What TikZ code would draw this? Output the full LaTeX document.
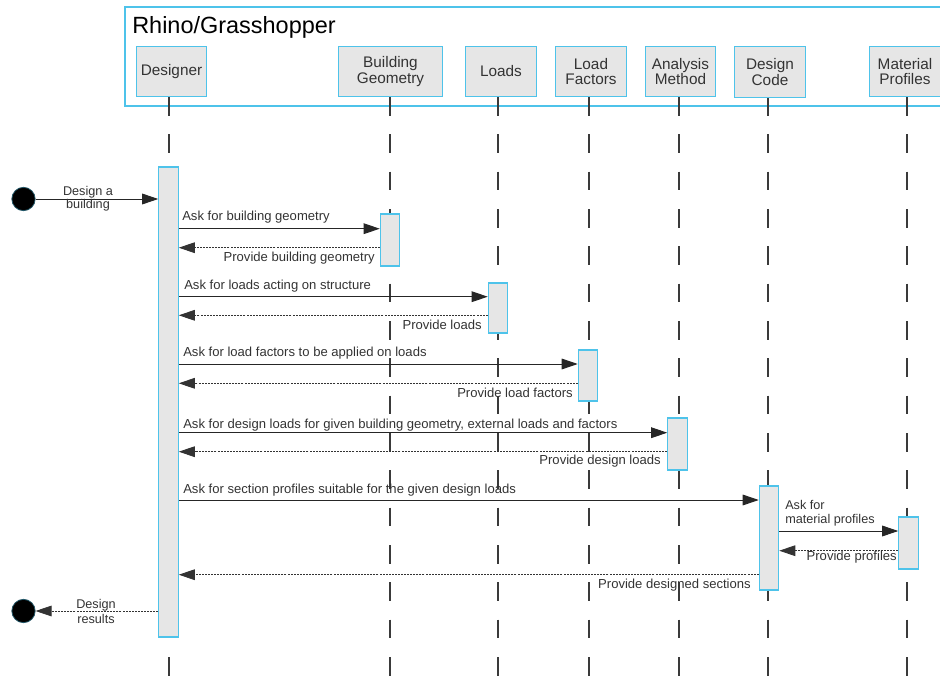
\documentclass[tikz,border=0pt]{standalone}
\usepackage{fontspec}
\setmainfont{Liberation Sans}
\usepackage{tikz}
\usetikzlibrary{arrows.meta,calc}

\definecolor{frameblue}{HTML}{4EC3EA}
\definecolor{boxgray}{HTML}{E6E6E6}
\definecolor{textgray}{HTML}{333333}
\definecolor{linegray}{HTML}{3A3A3A}

\tikzset{
  headbox/.style={draw=frameblue, fill=boxgray, line width=0.9pt, minimum width=53pt, minimum height=38pt,
    inner sep=1pt, align=center, text=textgray, font=\fontsize{11.5}{11.5}\selectfont},
  actbar/.style={draw=frameblue, fill=boxgray, line width=0.9pt, minimum width=14.5pt, inner sep=0pt},
  lifeline/.style={linegray, line width=0.8pt, dash pattern=on 14pt off 14pt},
  callmsg/.style={black!85, line width=0.7pt, -{Triangle[length=12pt,width=8pt]}},
  backmsg/.style={black!80, line width=0.6pt, dash pattern=on 1.5pt off 0.8pt, -{Triangle[length=12pt,width=8pt]}},
  msgtext/.style={inner sep=0pt, text=textgray, font=\fontsize{9.8}{9.8}\selectfont},
  endpoint/.style={circle, fill=black, draw=frameblue!45!black, line width=0.6pt, minimum size=17.5pt, inner sep=0pt}
}

\begin{document}
\begin{tikzpicture}[x=0.75pt,y=-0.75pt]
\useasboundingbox (0,0) rectangle (940,678);

% frame
\draw [frameblue, line width=0.9pt] (946,7) -- (125,7) -- (125,106) -- (946,106);
\node [anchor=west, inner sep=0pt, text=black, font=\fontsize{17.6}{17.6}\selectfont] (title) at (132,27) {Rhino/Grasshopper};

% lifelines
\draw [lifeline] (169,97) -- (169,678);
\draw [lifeline] (390,97) -- (390,678);
\draw [lifeline] (498,97) -- (498,678);
\draw [lifeline] (589,97) -- (589,678);
\draw [lifeline] (679,97) -- (679,678);
\draw [lifeline] (768,97) -- (768,678);
\draw [lifeline] (907,97) -- (907,678);

\node [headbox] (designer) at (171.5,71.5) {Designer};
\node [headbox, minimum width=78pt] (geometry) at (390.5,71.5) {Building\\Geometry};
\node [headbox] (loads) at (501,71.5) {Loads};
\node [headbox] (factors) at (591,71.5) {Load\\Factors};
\node [headbox] (method) at (680.5,71.5) {Analysis\\Method};
\node [headbox] (code) at (770,72) {Design\\Code};
\node [headbox] (profiles) at (905,71.5) {Material\\Profiles};

% activations
\node [actbar, minimum height=352.5pt] (dbar) at (168.5,402) {};
\node [actbar, minimum height=39pt] (gbar) at (390,240) {};
\node [actbar, minimum height=37.5pt] (lbar) at (498,308) {};
\node [actbar, minimum height=38.25pt] (fbar) at (588,375.5) {};
\node [actbar, minimum height=39pt] (mbar) at (677.5,444) {};
\node [actbar, minimum height=78pt] (cbar) at (769,538) {};
\node [actbar, minimum height=39pt] (pbar) at (908.5,543) {};

\node [endpoint] (start) at (23.5,199) {};
\node [endpoint] (stop) at (23.5,611) {};

% messages
\draw [callmsg] (start) -- (dbar.west |- start);
\node [msgtext, align=center, font=\fontsize{9.5}{9.4}\selectfont] (startlbl) at (88,198.5) {Design a\\building};

\draw [callmsg] (dbar.east |- 0,228.7) -- (gbar.west |- 0,228.7);
\node [msgtext, anchor=west] (ask1) at (182,217) {Ask for building geometry};
\draw [backmsg] (gbar.west |- 0,247.7) -- (dbar.east |- 0,247.7);
\node [msgtext, anchor=east] (ret1) at (375,258) {Provide building geometry};

\draw [callmsg] (dbar.east |- 0,296.7) -- (lbar.west |- 0,296.7);
\node [msgtext, anchor=west] (ask2) at (184,286) {Ask for loads acting on structure};
\draw [backmsg] (lbar.west |- 0,315.3) -- (dbar.east |- 0,315.3);
\node [msgtext, anchor=east] (ret2) at (482,325) {Provide loads};

\draw [callmsg] (dbar.east |- 0,364) -- (fbar.west |- 0,364);
\node [msgtext, anchor=west] (ask3) at (183,353.5) {Ask for load factors to be applied on loads};
\draw [backmsg] (fbar.west |- 0,383.3) -- (dbar.east |- 0,383.3);
\node [msgtext, anchor=east] (ret3) at (573,393) {Provide load factors};

\draw [callmsg] (dbar.east |- 0,432.7) -- (mbar.west |- 0,432.7);
\node [msgtext, anchor=west] (ask4) at (183,425) {Ask for design loads for given building geometry, external loads and factors};
\draw [backmsg] (mbar.west |- 0,451.7) -- (dbar.east |- 0,451.7);
\node [msgtext, anchor=east] (ret4) at (661,461.5) {Provide design loads};

\draw [callmsg] (dbar.east |- 0,500) -- (cbar.west |- 0,500);
\node [msgtext, anchor=west] (ask5) at (183,490) {Ask for section profiles suitable for the given design loads};

\draw [callmsg] (cbar.east |- 0,531) -- (pbar.west |- 0,531);
\node [msgtext, anchor=west, align=left, font=\fontsize{9.5}{10.7}\selectfont] (ask6) at (785,513) {Ask for\\material profiles};
\draw [backmsg] (pbar.west |- 0,550.7) -- (cbar.east |- 0,550.7);
\node [msgtext, anchor=east] (ret6) at (897,557.5) {Provide profiles};

\draw [backmsg] (cbar.west |- 0,574.7) -- (dbar.east |- 0,574.7);
\node [msgtext, anchor=east] (ret5) at (751,585.5) {Provide designed sections};

\draw [backmsg] (dbar.west |- stop) -- (stop);
\node [msgtext, align=center, font=\fontsize{9.5}{11}\selectfont] (stoplbl) at (96,611.5) {Design\\results};

\end{tikzpicture}
\end{document}
